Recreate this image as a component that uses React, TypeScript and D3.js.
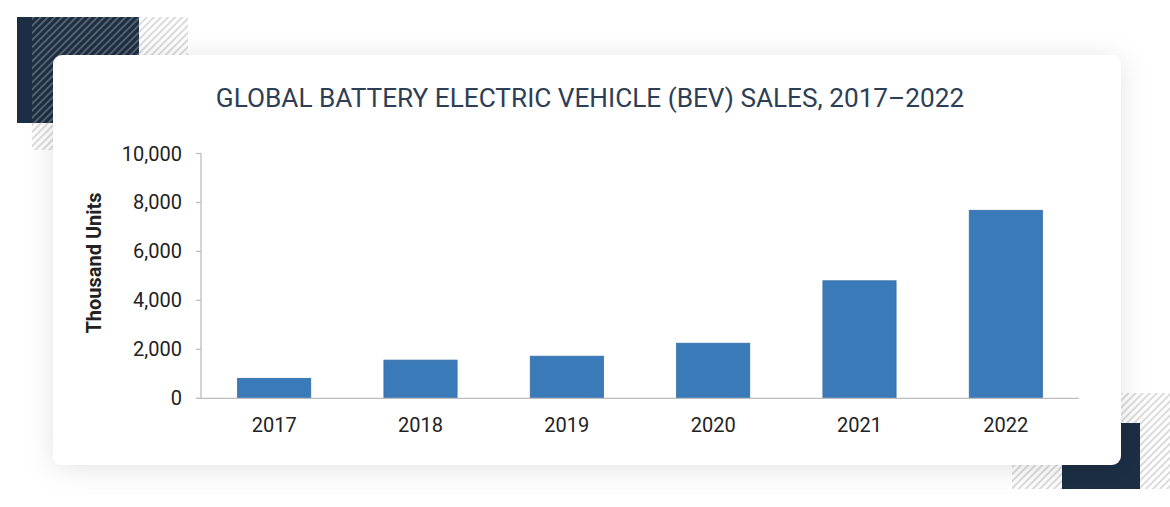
import React from 'react';
import * as d3 from 'd3';

const years = ['2017', '2018', '2019', '2020', '2021', '2022'];
const sales = [816, 1560, 1720, 2250, 4800, 7680];
const yTicks = [0, 2000, 4000, 6000, 8000, 10000];

const W = 1170;
const H = 507;
const NAVY = '#1c2e44';
const BAR = '#3a7ab8';

export default function App() {
  const x = d3.scaleBand<string>().domain(years).range([201, 1079]).paddingInner(0.5).paddingOuter(0.25);
  const y = d3.scaleLinear().domain([0, 10000]).range([398.3, 153.5]);
  const fmt = d3.format(',');

  return (
    <div style={{ position: 'absolute', left: 0, top: 0, background: '#fff' }}>
      <svg width={W} height={H} style={{ display: 'block', fontFamily: 'Roboto, sans-serif' }}>
        <defs>
          <pattern id="hatch" width="5" height="5" patternUnits="userSpaceOnUse" patternTransform="rotate(45)">
            <rect width="2" height="5" fill="#a8a8a8" fillOpacity="0.42" />
          </pattern>
          <filter id="cardShadow" x="-10%" y="-25%" width="120%" height="150%">
            <feDropShadow dx="0" dy="3" stdDeviation="14" floodColor="#000" floodOpacity="0.11" />
          </filter>
        </defs>

        {/* decorations */}
        <rect x={17} y={17} width={122} height={106} fill={NAVY} />
        <rect x={32} y={17} width={156} height={133} fill="url(#hatch)" />
        <rect x={1012} y={393} width={158} height={96} fill="url(#hatch)" />
        <rect x={1062} y={423} width={78} height={66} fill={NAVY} />

        {/* card */}
        <rect x={53} y={55} width={1068} height={410} rx={9} fill="#fff" filter="url(#cardShadow)" />

        <text x={590} y={107} textAnchor="middle" fontSize={26.2} fill="#2d3e55">
          GLOBAL BATTERY ELECTRIC VEHICLE (BEV) SALES, 2017–2022
        </text>

        {/* y axis */}
        <line x1={201} x2={201} y1={y(10000)} y2={y(0)} stroke="#bdbdbd" strokeWidth={1.3} />
        {yTicks.map(t => (
          <g key={t} transform={`translate(0,${y(t)})`}>
            <line x1={196} x2={201} stroke="#bdbdbd" strokeWidth={1.3} />
            <text x={182} dy="0.35em" textAnchor="end" fontSize={20} fill="#222">{fmt(t)}</text>
          </g>
        ))}
        <text transform={`translate(101,263) rotate(-90)`} textAnchor="middle" fontSize={20} fontWeight={700} fill="#222">
          Thousand Units
        </text>

        {/* bars */}
        {years.map((yr, i) => (
          <rect key={yr} x={x(yr)} y={y(sales[i])} width={x.bandwidth()} height={y(0) - y(sales[i])}
            fill={BAR} stroke="#3470a8" strokeWidth={0.8} />
        ))}

        {/* x axis */}
        <line x1={201} x2={1079} y1={y(0)} y2={y(0)} stroke="#bdbdbd" strokeWidth={1.3} />
        {years.map(yr => (
          <text key={yr} x={(x(yr) ?? 0) + x.bandwidth() / 2} y={432} textAnchor="middle" fontSize={20} fill="#222">{yr}</text>
        ))}
      </svg>
    </div>
  );
}
